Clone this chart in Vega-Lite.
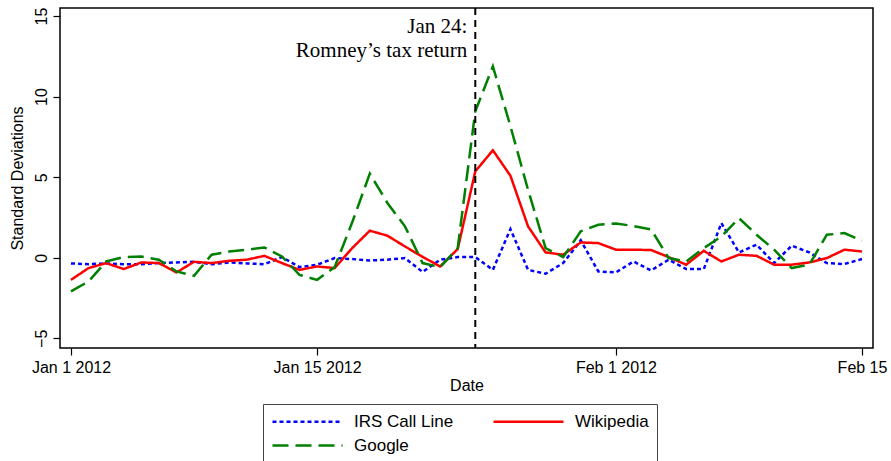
{
  "$schema": "https://vega.github.io/schema/vega-lite/v6.json",
  "width": 813,
  "height": 340,
  "autosize": "none",
  "padding": {"left": 60, "top": 8, "right": 18, "bottom": 113},
  "background": "white",
  "config": {
    "font": "Liberation Sans",
    "view": {"stroke": "black", "strokeWidth": 1.5},
    "axis": {"grid": false, "domain": false, "tickColor": "black", "tickWidth": 1.2, "tickSize": 7, "labelColor": "black", "titleColor": "black", "labelFont": "Liberation Sans", "titleFont": "Liberation Sans", "titleFontWeight": "normal", "labelFontSize": 16, "titleFontSize": 16}
  },
  "layer": [
    {
      "data": {"values": [
        {"d":"2012-01-01","s":"IRS Call Line","v":-0.35},{"d":"2012-01-01","s":"Wikipedia","v":-1.37},{"d":"2012-01-01","s":"Google","v":-2.09},
        {"d":"2012-01-02","s":"IRS Call Line","v":-0.4},{"d":"2012-01-02","s":"Wikipedia","v":-0.64},{"d":"2012-01-02","s":"Google","v":-1.47},
        {"d":"2012-01-03","s":"IRS Call Line","v":-0.35},{"d":"2012-01-03","s":"Wikipedia","v":-0.33},{"d":"2012-01-03","s":"Google","v":-0.23},
        {"d":"2012-01-04","s":"IRS Call Line","v":-0.4},{"d":"2012-01-04","s":"Wikipedia","v":-0.7},{"d":"2012-01-04","s":"Google","v":0.04},
        {"d":"2012-01-05","s":"IRS Call Line","v":-0.4},{"d":"2012-01-05","s":"Wikipedia","v":-0.29},{"d":"2012-01-05","s":"Google","v":0.08},
        {"d":"2012-01-06","s":"IRS Call Line","v":-0.33},{"d":"2012-01-06","s":"Wikipedia","v":-0.33},{"d":"2012-01-06","s":"Google","v":-0.12},
        {"d":"2012-01-07","s":"IRS Call Line","v":-0.29},{"d":"2012-01-07","s":"Wikipedia","v":-0.91},{"d":"2012-01-07","s":"Google","v":-0.85},
        {"d":"2012-01-08","s":"IRS Call Line","v":-0.25},{"d":"2012-01-08","s":"Wikipedia","v":-0.25},{"d":"2012-01-08","s":"Google","v":-1.12},
        {"d":"2012-01-09","s":"IRS Call Line","v":-0.4},{"d":"2012-01-09","s":"Wikipedia","v":-0.33},{"d":"2012-01-09","s":"Google","v":0.19},
        {"d":"2012-01-10","s":"IRS Call Line","v":-0.29},{"d":"2012-01-10","s":"Wikipedia","v":-0.19},{"d":"2012-01-10","s":"Google","v":0.39},
        {"d":"2012-01-11","s":"IRS Call Line","v":-0.35},{"d":"2012-01-11","s":"Wikipedia","v":-0.12},{"d":"2012-01-11","s":"Google","v":0.5},
        {"d":"2012-01-12","s":"IRS Call Line","v":-0.4},{"d":"2012-01-12","s":"Wikipedia","v":0.12},{"d":"2012-01-12","s":"Google","v":0.64},
        {"d":"2012-01-13","s":"IRS Call Line","v":0.04},{"d":"2012-01-13","s":"Wikipedia","v":-0.33},{"d":"2012-01-13","s":"Google","v":0.08},
        {"d":"2012-01-14","s":"IRS Call Line","v":-0.58},{"d":"2012-01-14","s":"Wikipedia","v":-0.75},{"d":"2012-01-14","s":"Google","v":-1.06},
        {"d":"2012-01-15","s":"IRS Call Line","v":-0.43},{"d":"2012-01-15","s":"Wikipedia","v":-0.54},{"d":"2012-01-15","s":"Google","v":-1.37},
        {"d":"2012-01-16","s":"IRS Call Line","v":-0.02},{"d":"2012-01-16","s":"Wikipedia","v":-0.64},{"d":"2012-01-16","s":"Google","v":-0.58},
        {"d":"2012-01-17","s":"IRS Call Line","v":-0.08},{"d":"2012-01-17","s":"Wikipedia","v":0.6},{"d":"2012-01-17","s":"Google","v":2.2},
        {"d":"2012-01-18","s":"IRS Call Line","v":-0.17},{"d":"2012-01-18","s":"Wikipedia","v":1.68},{"d":"2012-01-18","s":"Google","v":5.22},
        {"d":"2012-01-19","s":"IRS Call Line","v":-0.12},{"d":"2012-01-19","s":"Wikipedia","v":1.37},{"d":"2012-01-19","s":"Google","v":3.4},
        {"d":"2012-01-20","s":"IRS Call Line","v":-0.02},{"d":"2012-01-20","s":"Wikipedia","v":0.7},{"d":"2012-01-20","s":"Google","v":1.95},
        {"d":"2012-01-21","s":"IRS Call Line","v":-0.88},{"d":"2012-01-21","s":"Wikipedia","v":0.06},{"d":"2012-01-21","s":"Google","v":-0.33},
        {"d":"2012-01-22","s":"IRS Call Line","v":-0.12},{"d":"2012-01-22","s":"Wikipedia","v":-0.54},{"d":"2012-01-22","s":"Google","v":-0.58},
        {"d":"2012-01-23","s":"IRS Call Line","v":0.04},{"d":"2012-01-23","s":"Wikipedia","v":0.54},{"d":"2012-01-23","s":"Google","v":0.6},
        {"d":"2012-01-24","s":"IRS Call Line","v":0.04},{"d":"2012-01-24","s":"Wikipedia","v":5.36},{"d":"2012-01-24","s":"Google","v":9.09},
        {"d":"2012-01-25","s":"IRS Call Line","v":-0.75},{"d":"2012-01-25","s":"Wikipedia","v":6.67},{"d":"2012-01-25","s":"Google","v":11.88},
        {"d":"2012-01-26","s":"IRS Call Line","v":1.78},{"d":"2012-01-26","s":"Wikipedia","v":5.09},{"d":"2012-01-26","s":"Google","v":8.16},
        {"d":"2012-01-27","s":"IRS Call Line","v":-0.75},{"d":"2012-01-27","s":"Wikipedia","v":1.95},{"d":"2012-01-27","s":"Google","v":4.22},
        {"d":"2012-01-28","s":"IRS Call Line","v":-0.99},{"d":"2012-01-28","s":"Wikipedia","v":0.33},{"d":"2012-01-28","s":"Google","v":0.6},
        {"d":"2012-01-29","s":"IRS Call Line","v":-0.33},{"d":"2012-01-29","s":"Wikipedia","v":0.19},{"d":"2012-01-29","s":"Google","v":0.04},
        {"d":"2012-01-30","s":"IRS Call Line","v":1.08},{"d":"2012-01-30","s":"Wikipedia","v":0.95},{"d":"2012-01-30","s":"Google","v":1.64},
        {"d":"2012-01-31","s":"IRS Call Line","v":-0.85},{"d":"2012-01-31","s":"Wikipedia","v":0.91},{"d":"2012-01-31","s":"Google","v":2.05},
        {"d":"2012-02-01","s":"IRS Call Line","v":-0.91},{"d":"2012-02-01","s":"Wikipedia","v":0.5},{"d":"2012-02-01","s":"Google","v":2.13},
        {"d":"2012-02-02","s":"IRS Call Line","v":-0.23},{"d":"2012-02-02","s":"Wikipedia","v":0.5},{"d":"2012-02-02","s":"Google","v":1.97},
        {"d":"2012-02-03","s":"IRS Call Line","v":-0.79},{"d":"2012-02-03","s":"Wikipedia","v":0.48},{"d":"2012-02-03","s":"Google","v":1.76},
        {"d":"2012-02-04","s":"IRS Call Line","v":-0.12},{"d":"2012-02-04","s":"Wikipedia","v":0.04},{"d":"2012-02-04","s":"Google","v":-0.02},
        {"d":"2012-02-05","s":"IRS Call Line","v":-0.7},{"d":"2012-02-05","s":"Wikipedia","v":-0.43},{"d":"2012-02-05","s":"Google","v":-0.23},
        {"d":"2012-02-06","s":"IRS Call Line","v":-0.7},{"d":"2012-02-06","s":"Wikipedia","v":0.43},{"d":"2012-02-06","s":"Google","v":0.6},
        {"d":"2012-02-07","s":"IRS Call Line","v":2.15},{"d":"2012-02-07","s":"Wikipedia","v":-0.23},{"d":"2012-02-07","s":"Google","v":1.32},
        {"d":"2012-02-08","s":"IRS Call Line","v":0.33},{"d":"2012-02-08","s":"Wikipedia","v":0.19},{"d":"2012-02-08","s":"Google","v":2.46},
        {"d":"2012-02-09","s":"IRS Call Line","v":0.81},{"d":"2012-02-09","s":"Wikipedia","v":0.12},{"d":"2012-02-09","s":"Google","v":1.43},
        {"d":"2012-02-10","s":"IRS Call Line","v":-0.33},{"d":"2012-02-10","s":"Wikipedia","v":-0.43},{"d":"2012-02-10","s":"Google","v":0.5},
        {"d":"2012-02-11","s":"IRS Call Line","v":0.75},{"d":"2012-02-11","s":"Wikipedia","v":-0.43},{"d":"2012-02-11","s":"Google","v":-0.64},
        {"d":"2012-02-12","s":"IRS Call Line","v":0.33},{"d":"2012-02-12","s":"Wikipedia","v":-0.29},{"d":"2012-02-12","s":"Google","v":-0.43},
        {"d":"2012-02-13","s":"IRS Call Line","v":-0.33},{"d":"2012-02-13","s":"Wikipedia","v":-0.02},{"d":"2012-02-13","s":"Google","v":1.43},
        {"d":"2012-02-14","s":"IRS Call Line","v":-0.39},{"d":"2012-02-14","s":"Wikipedia","v":0.5},{"d":"2012-02-14","s":"Google","v":1.53},
        {"d":"2012-02-15","s":"IRS Call Line","v":-0.08},{"d":"2012-02-15","s":"Wikipedia","v":0.39},{"d":"2012-02-15","s":"Google","v":1.06}
      ]},
      "mark": {"type": "line", "strokeWidth": 2.5, "strokeCap": "butt"},
      "encoding": {
        "x": {
          "field": "d", "type": "temporal",
          "scale": {"type": "utc", "domain": [{"year": 2011, "month": 12, "date": 31, "hours": 9, "utc": true}, {"year": 2012, "month": 2, "date": 15, "hours": 15, "utc": true}]},
          "axis": {
            "title": "Date",
            "values": [{"year": 2012, "month": 1, "date": 1, "utc": true}, {"year": 2012, "month": 1, "date": 15, "utc": true}, {"year": 2012, "month": 2, "date": 1, "utc": true}, {"year": 2012, "month": 2, "date": 15, "utc": true}],
            "labelExpr": "utcmonth(datum.value) == 1 && utcdate(datum.value) == 15 ? 'Feb 15' : utcFormat(datum.value, '%b %-d %Y')",
            "labelPadding": 4,
            "labelFlush": false,
            "labelOverlap": false,
            "titlePadding": 2
          }
        },
        "y": {
          "field": "v", "type": "quantitative",
          "scale": {"domain": [-5.6, 15.5], "nice": false, "zero": false},
          "axis": {
            "title": "Standard Deviations",
            "values": [-5, 0, 5, 10, 15],
            "labelAngle": -90,
            "labelAlign": "center",
            "labelBaseline": "bottom",
            "labelPadding": 4,
            "titlePadding": 8
          }
        },
        "color": {
          "field": "s", "type": "nominal",
          "scale": {"domain": ["IRS Call Line", "Wikipedia", "Google"], "range": ["#0000ff", "#ff0000", "#008000"]},
          "legend": {"title": null, "orient": "none", "direction": "horizontal", "legendX": 203, "legendY": 396, "columns": 2, "columnPadding": 34, "rowPadding": 6, "padding": 8, "strokeColor": "#444444", "symbolType": "M-1,0H7.75", "symbolSize": 256, "symbolStrokeWidth": 2.5, "labelOffset": 64, "labelFontSize": 17, "labelFont": "Liberation Sans", "labelColor": "black"}
        },
        "strokeDash": {
          "field": "s", "type": "nominal",
          "scale": {"domain": ["IRS Call Line", "Wikipedia", "Google"], "range": [[4, 3], [1, 0], [16, 7]]},
          "legend": {"title": null, "orient": "none", "direction": "horizontal", "legendX": 203, "legendY": 396, "columns": 2, "columnPadding": 34, "rowPadding": 6, "padding": 8, "strokeColor": "#444444", "symbolType": "M-1,0H7.75", "symbolSize": 256, "symbolStrokeWidth": 2.5, "labelOffset": 64, "labelFontSize": 17, "labelFont": "Liberation Sans", "labelColor": "black"}
        }
      }
    },
    {
      "data": {"values": [{"event": "Romney tax return"}]},
      "mark": {"type": "rule", "color": "black", "strokeWidth": 2, "strokeDash": [7, 5]},
      "encoding": {"x": {"datum": {"year": 2012, "month": 1, "date": 24, "utc": true}, "type": "temporal"}}
    },
    {
      "data": {"values": [{"event": "Romney tax return"}]},
      "mark": {"type": "text", "font": "Liberation Serif", "fontSize": 21, "align": "right", "baseline": "alphabetic", "dx": -8, "lineHeight": 24, "color": "black"},
      "encoding": {
        "x": {"datum": {"year": 2012, "month": 1, "date": 24, "utc": true}, "type": "temporal"},
        "y": {"datum": 13.95, "type": "quantitative"},
        "text": {"value": ["Jan 24:", "Romney’s tax return"]}
      }
    }
  ]
}
